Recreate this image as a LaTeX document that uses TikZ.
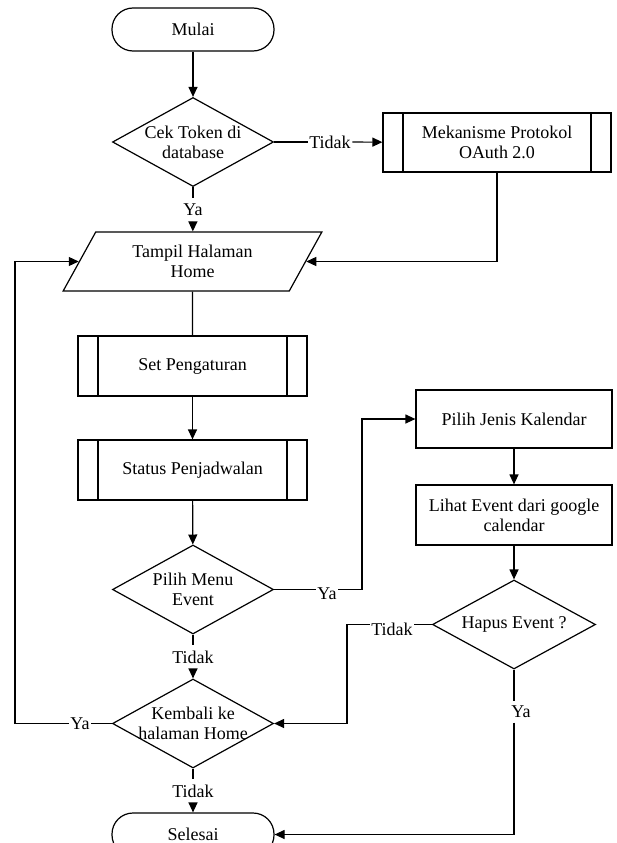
\documentclass[tikz,border=0pt]{standalone}
\usepackage{fontspec}
\setmainfont{Liberation Serif}
\usetikzlibrary{shapes.geometric, arrows.meta}

\begin{document}
\begin{tikzpicture}[x=1pt, y=-1pt, line width=1.2pt,
    font=\fontsize{18}{20}\selectfont,
    every node/.style={align=center},
    terminal/.style={draw, rounded corners=21pt, minimum width=162pt,
        minimum height=43pt},
    decision/.style={draw, diamond, aspect=1.8, inner sep=-4pt,
        minimum width=161pt, minimum height=89pt},
    process/.style={draw, minimum width=196pt, minimum height=59pt},
    subproc/.style={process, path picture={
        \draw ([xshift=20pt]path picture bounding box.north west)
            -- ([xshift=20pt]path picture bounding box.south west);
        \draw ([xshift=-20pt]path picture bounding box.north east)
            -- ([xshift=-20pt]path picture bounding box.south east);}},
    iodata/.style={draw, trapezium, trapezium left angle=61.5,
        trapezium right angle=118.5, trapezium stretches=true,
        minimum width=259pt, minimum height=59pt},
    lbl/.style={inner xsep=1pt, inner ysep=5pt},
    arr/.style={-{Triangle[length=10pt, width=9pt]}}]
    \useasboundingbox (0, 0) rectangle (616, 843);

    \node[terminal] (mulai) at (193, 29.5) {Mulai};
    \node[decision] (cek) at (193, 142) {Cek Token di\\database};
    \node[subproc, minimum width=228pt] (oauth) at (497, 142.5)
        {Mekanisme Protokol\\OAuth 2.0};
    \node[iodata] (home) at (192.5, 261.5) {Tampil Halaman\\Home};
    \node[subproc, minimum width=229pt, minimum height=60pt] (atur)
        at (192.5, 366) {Set Pengaturan};
    \node[subproc, minimum width=229pt, minimum height=60pt] (status)
        at (192.5, 470) {Status Penjadwalan};
    \node[decision] (menu) at (193, 589.5) {Pilih Menu\\Event};
    \node[decision] (kembali) at (193, 723.5) {Kembali ke\\halaman Home};
    \node[terminal] (selesai) at (193, 834.5) {Selesai};
    \node[process, minimum height=58pt] (jenis) at (514, 419)
        {Pilih Jenis Kalendar};
    \node[process, minimum height=60pt] (lihat) at (514, 515)
        {Lihat Event dari google\\calendar};
    \node[decision, minimum width=163pt] (hapus) at (514, 624.5)
        {Hapus Event ?};

    % labels on the connectors
    \node[lbl] (tidakA) at (330, 142) {Tidak};
    \node[lbl] (yaA) at (193, 210) {Ya};
    \node[lbl, text height=19pt, text depth=0pt] (yaB) at (327, 589.5) {Ya};
    \node[lbl] (tidakB) at (193, 657) {Tidak};
    \node[lbl] (yaC) at (80, 723.5) {Ya};
    \node[lbl] (tidakC) at (193, 791) {Tidak};
    \node[lbl, text height=21pt, text depth=0pt] (tidakD) at (392, 624.5)
        {Tidak};
    \node[lbl, inner ysep=4pt] (yaD) at (521, 712) {Ya};

    \coordinate (tekukA) at (362, 589.5);
    \coordinate (tekukB) at (347, 624.5);
    \coordinate (tekukC) at (15, 723.5);

    \draw[arr] (mulai) -- (cek);
    \draw (cek) -- (tidakA);
    \draw[arr] (tidakA) -- (oauth);
    \draw (cek) -- (yaA);
    \draw[arr] (yaA) -- (home);
    \draw[arr] (oauth) |- (home);
    \draw (home) -- (atur);
    \draw[arr] (atur) -- (status);
    \draw[arr] (status) -- (menu);
    \draw (menu) -- (yaB);
    \draw[arr] (yaB) -- (tekukA) |- (jenis);
    \draw[arr] (jenis) -- (lihat);
    \draw[arr] (lihat) -- (hapus);
    \draw (hapus) -- (tidakD);
    \draw[arr] (tidakD) -- (tekukB) |- (kembali);
    \draw (hapus) -- (hapus |- yaD.north);
    \draw[arr] (hapus |- yaD.south) |- (selesai);
    \draw (menu) -- (tidakB);
    \draw[arr] (tidakB) -- (kembali);
    \draw (kembali) -- (yaC);
    \draw[arr] (yaC) -- (tekukC) |- (home);
    \draw (kembali) -- (tidakC);
    \draw[arr] (tidakC) -- (selesai);
\end{tikzpicture}
\end{document}
